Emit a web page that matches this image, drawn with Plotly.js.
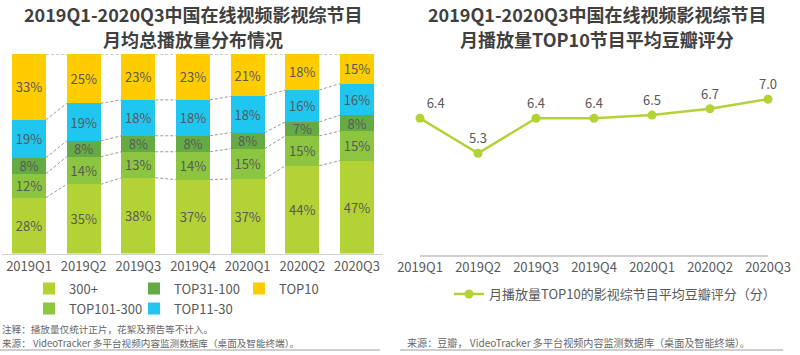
<!DOCTYPE html>
<html><head><meta charset="utf-8">
<script src="https://cdn.plot.ly/plotly-3.0.1.min.js"></script>
<style>html,body{margin:0;padding:0;background:#fff}#chart{width:800px;height:355px}</style>
</head><body><div id="chart"></div>
<script>
// ---- data ----
const quarters = ['2019Q1','2019Q2','2019Q3','2019Q4','2020Q1','2020Q2','2020Q3'];
const share300plus   = [28,35,38,37,37,44,47];
const shareTop101_300 = [12,14,13,14,15,15,15];
const shareTop31_100  = [8,8,8,8,8,7,8];
const shareTop11_30   = [19,19,18,18,18,16,16];
const shareTop10      = [33,25,23,23,21,18,15];
const seriesNames = ['300+','TOP101-300','TOP31-100','TOP11-30','TOP10'];
const doubanScore = [6.4,5.3,6.4,6.4,6.5,6.7,7.0];
const lineName = '月播放量TOP10的影视综节目平均豆瓣评分（分）';
const titleLeft = ['2019Q1-2020Q3中国在线视频影视综节目', '月均总播放量分布情况'];
const titleRight = ['2019Q1-2020Q3中国在线视频影视综节目', '月播放量TOP10节目平均豆瓣评分'];
const noteLeft = '注释：播放量仅统计正片，花絮及预告等不计入。';
const sourceLeft = '来源： VideoTracker 多平台视频内容监测数据库（桌面及智能终端）。';
const sourceRight = '来源：豆瓣， VideoTracker 多平台视频内容监测数据库（桌面及智能终端）。';

// ---- styles ----
const W = 800, H = 355;
const px = x => x / W;
const py = y => 1 - y / H;
const FONT = '"Noto Sans CJK SC", "Noto Sans", sans-serif';
const TXT = '#595959';
const colors = ['#b3d235','#8cc540','#65ab45','#1fc6ef','#ffcc00'];
const legendOf = ['legend','legend2','legend','legend2','legend'];
const series = [share300plus, shareTop101_300, shareTop31_100, shareTop11_30, shareTop10];
const BARW = 0.62;

const traces = series.map((vals, k) => ({
  type: 'bar', x: quarters, y: vals, name: seriesNames[k],
  xaxis: 'x', yaxis: 'y', legend: legendOf[k],
  width: BARW,
  marker: {color: colors[k], line: {width: 0}},
  text: vals.map(v => v + '%'), textposition: 'inside', insidetextanchor: 'middle',
  constraintext: 'none', textangle: 0,
  textfont: {family: FONT, size: 13, color: TXT},
  hoverinfo: 'skip'
}));

traces.push({
  type: 'scatter', mode: 'lines+markers+text', x: quarters, y: doubanScore,
  name: lineName, xaxis: 'x2', yaxis: 'y2', legend: 'legend3',
  line: {color: '#b3d235', width: 2.5},
  marker: {color: '#b3d235', size: 9},
  text: doubanScore.map(v => v.toFixed(1)),
  textposition: doubanScore.map((v, i) => i === 0 ? 'top right' : 'top center'),
  textfont: {family: FONT, size: 13, color: TXT},
  cliponaxis: false, hoverinfo: 'skip'
});

// dashed connectors between stacked segments, computed from data
const shapes = [];
const totals = quarters.map((q, i) => series.reduce((s, arr) => s + arr[i], 0));
for (let i = 0; i < quarters.length - 1; i++) {
  let c0 = 0, c1 = 0;
  for (let k = 0; k < series.length; k++) {
    c0 += series[k][i]; c1 += series[k][i + 1];
    shapes.push({type: 'line', xref: 'x', yref: 'y',
      x0: i + BARW / 2, x1: i + 1 - BARW / 2,
      y0: c0 / totals[i] * 100, y1: c1 / totals[i + 1] * 100,
      line: {color: '#9a9a9a', width: 1, dash: '3px,2px'}, layer: 'below'});
  }
}
// bottom rules
shapes.push({type:'line', xref:'paper', yref:'paper', x0: px(0), x1: px(380), y0: py(350), y1: py(350), line:{color:'#bfbfbf', width:1.5}});
shapes.push({type:'line', xref:'paper', yref:'paper', x0: px(400), x1: px(783), y0: py(350), y1: py(350), line:{color:'#bfbfbf', width:1.5}});

const titleFont = {family: FONT, size: 18, color: '#404040'};
const noteFont = {family: FONT, size: 9.6, color: '#666666'};
const ann = (x, y, text, font, xanchor) => ({xref:'paper', yref:'paper', x: px(x), y: py(y),
  xanchor: xanchor || 'center', yanchor:'middle', showarrow:false, borderpad: 0, text, font});
const annotations = [
  ann(193, 14, '<b>' + titleLeft[0] + '</b>', titleFont),
  ann(193, 39, '<b>' + titleLeft[1] + '</b>', titleFont),
  ann(597, 14, '<b>' + titleRight[0] + '</b>', titleFont),
  ann(597, 39, '<b>' + titleRight[1] + '</b>', titleFont),
  ann(1, 328.5, noteLeft, noteFont, 'left'),
  ann(1, 342.5, sourceLeft, noteFont, 'left'),
  ann(406, 342.5, sourceRight, Object.assign({}, noteFont, {size: 10.1}), 'left')
];

const legendBase = {orientation:'h', xanchor:'left', yanchor:'middle', bgcolor:'rgba(0,0,0,0)',
  font:{family: FONT, size: 13, color: TXT}, traceorder:'normal', entrywidthmode:'pixels'};

const layout = {
  width: W, height: H, margin: {l:0, r:0, t:0, b:0},
  paper_bgcolor: '#fff', plot_bgcolor: 'rgba(0,0,0,0)',
  barmode: 'stack', barnorm: 'percent', showlegend: true,
  font: {family: FONT, color: TXT},
  xaxis: {domain: [px(2), px(383)], type:'category', range: [-0.494, 6.476], showline: true,
    linecolor: '#d0d0d0', linewidth: 1.5, showgrid: false, zeroline: false, ticks: '',
    tickfont: {family: FONT, size: 13, color: TXT}, fixedrange: true},
  yaxis: {domain: [py(253.5), py(54)], range: [0, 100], visible: false, fixedrange: true},
  xaxis2: {domain: [px(420), px(768)], type:'category', range: [0, 6], anchor: 'y2', showline: true,
    linecolor: '#d0d0d0', linewidth: 1.5, showgrid: false, zeroline: false, ticks: '',
    tickfont: {family: FONT, size: 13, color: TXT}, fixedrange: true},
  yaxis2: {domain: [py(255), py(55)], range: [2.1, 8.39], anchor: 'x2', visible: false, fixedrange: true},
  legend: Object.assign({}, legendBase, {x: px(29), y: py(288.5), entrywidth: 60}),
  legend2: Object.assign({}, legendBase, {x: px(29), y: py(308.5), entrywidth: 60}),
  legend3: Object.assign({}, legendBase, {x: px(449), y: py(294)}),
  shapes: shapes,
  annotations: annotations
};

Plotly.newPlot('chart', traces, layout, {displayModeBar: false, staticPlot: true});
</script>
</body></html>
